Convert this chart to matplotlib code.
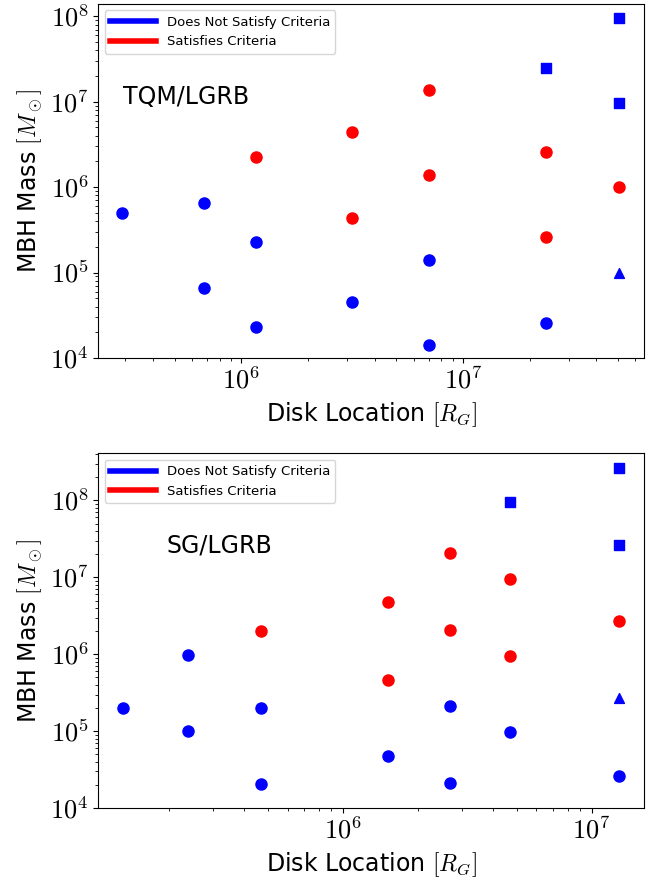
import matplotlib
matplotlib.use("Agg")
import matplotlib.pyplot as plt
from matplotlib.lines import Line2D
from matplotlib.ticker import LogLocator, FuncFormatter

plt.rcParams['mathtext.fontset'] = 'cm'

# ---------------- data ----------------
# TQM / LGRB
tqm_fail_x = [2.9e5, 6.8e5, 6.8e5, 1.16e6, 1.16e6, 3.17e6, 7.0e6, 7.0e6, 2.38e7]
tqm_fail_m = [5.0e5, 6.6e5, 6.6e4, 2.3e5, 2.3e4, 4.5e4, 1.4e5, 1.4e4, 2.6e4]
tqm_pass_x = [1.16e6, 3.17e6, 3.17e6, 7.0e6, 7.0e6, 2.38e7, 2.38e7, 5.08e7]
tqm_pass_m = [2.25e6, 4.4e6, 4.4e5, 1.38e7, 1.38e6, 2.56e6, 2.6e5, 1.0e6]
tqm_sq_x = [2.38e7, 5.08e7, 5.08e7]
tqm_sq_m = [2.5e7, 9.6e7, 9.6e6]
tqm_tri_x = [5.08e7]
tqm_tri_m = [1.0e5]

# SG / LGRB
sg_fail_x = [1.31e5, 2.39e5, 2.39e5, 4.7e5, 4.7e5, 1.52e6, 2.7e6, 2.7e6, 4.7e6, 1.29e7]
sg_fail_m = [2.0e5, 9.7e5, 1.0e5, 2.0e5, 2.05e4, 4.7e4, 2.1e5, 2.15e4, 9.8e4, 2.6e4]
sg_pass_x = [4.7e5, 1.52e6, 1.52e6, 2.7e6, 2.7e6, 4.7e6, 4.7e6, 1.29e7]
sg_pass_m = [2.0e6, 4.8e6, 4.6e5, 2.07e7, 2.1e6, 9.5e6, 9.6e5, 2.67e6]
sg_sq_x = [4.7e6, 1.29e7, 1.29e7]
sg_sq_m = [9.4e7, 2.6e8, 2.6e7]
sg_tri_x = [1.29e7]
sg_tri_m = [2.7e5]

fig = plt.figure(figsize=(6.59, 8.83), dpi=100)
ax1 = fig.add_axes([0.149, 0.5946, 0.828, 0.401])
ax2 = fig.add_axes([0.149, 0.0847, 0.828, 0.402])


def pow_fmt(v, pos):
    import math
    e = int(round(math.log10(v)))
    return r'$10^{%d}$' % e


def draw(ax, fx, fm, px, pm, sx, sm, tx, tm, label, lpos, xlim, ylim):
    ax.scatter(fx, fm, s=64, c='blue', marker='o', zorder=3)
    ax.scatter(px, pm, s=64, c='red', marker='o', zorder=3)
    ax.scatter(sx, sm, s=55, c='blue', marker='s', zorder=3)
    ax.scatter(tx, tm, s=50, c='blue', marker='^', zorder=3)
    ax.set_xscale('log')
    ax.set_yscale('log')
    ax.set_xlim(*xlim)
    ax.set_ylim(*ylim)
    ax.yaxis.set_major_locator(LogLocator(base=10, numticks=10))
    ax.xaxis.set_major_formatter(FuncFormatter(pow_fmt))
    ax.yaxis.set_major_formatter(FuncFormatter(pow_fmt))
    ax.tick_params(axis='both', which='major', labelsize=19)
    ax.set_xlabel(r'Disk Location $[R_G]$', fontsize=17)
    ax.set_ylabel(r'MBH Mass $[M_\odot]$', fontsize=17)
    ax.text(lpos[0], lpos[1], label, transform=ax.transAxes,
            fontsize=17, va='center', ha='left')
    handles = [Line2D([0], [0], color='blue', lw=4),
               Line2D([0], [0], color='red', lw=4)]
    ax.legend(handles, ['Does Not Satisfy Criteria', 'Satisfies Criteria'],
              loc='upper left', fontsize=9.5, handlelength=3.5)


draw(ax1, tqm_fail_x, tqm_fail_m, tqm_pass_x, tqm_pass_m,
     tqm_sq_x, tqm_sq_m, tqm_tri_x, tqm_tri_m,
     'TQM/LGRB', (0.045, 0.737), (2.26e5, 6.56e7), (1e4, 1.4e8))
draw(ax2, sg_fail_x, sg_fail_m, sg_pass_x, sg_pass_m,
     sg_sq_x, sg_sq_m, sg_tri_x, sg_tri_m,
     'SG/LGRB', (0.126, 0.739), (1.04e5, 1.62e7), (1e4, 4.1e8))

fig.savefig('out.png', dpi=100)
